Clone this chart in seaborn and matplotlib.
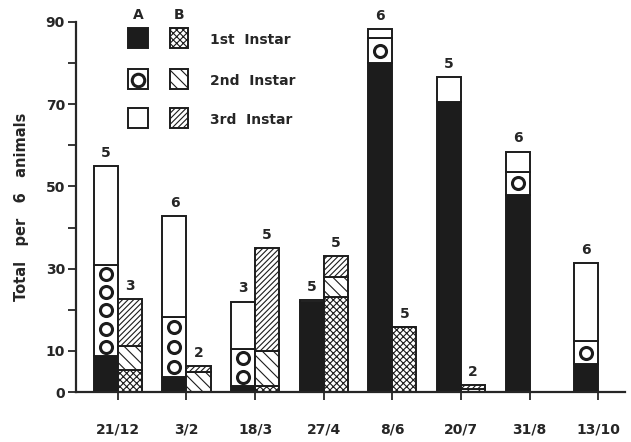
import numpy as np
import matplotlib
matplotlib.use("Agg")
import matplotlib.pyplot as plt
from matplotlib.patches import Rectangle
from matplotlib.lines import Line2D
import seaborn as sns

# data
dates = ["21/12", "3/2", "18/3", "27/4", "8/6", "20/7", "31/8", "13/10"]
# A columns (stacked: 1st, 2nd, 3rd instar)
a_first = [8.7, 3.6, 1.5, 22.0, 80.0, 70.5, 48.0, 6.8]
a_second = [22.3, 14.7, 8.9, 0.0, 6.0, 0.0, 5.5, 5.5]
a_third = [24.0, 24.4, 11.6, 0.3, 2.3, 6.0, 5.0, 19.0]
a_n = [5, 6, 3, 5, 6, 5, 6, 6]
# B columns
b_first = [5.3, 0.0, 1.5, 23.0, 15.7, 0.0, 0.0, 0.0]
b_second = [6.0, 4.8, 8.5, 5.0, 0.0, 0.8, 0.0, 0.0]
b_third = [11.3, 1.5, 25.0, 5.0, 0.0, 0.8, 0.0, 0.0]
b_n = [3, 2, 5, 5, 5, 2, None, None]

sns.set_style("ticks")
plt.rcParams['font.family'] = ['DejaVu Sans']
plt.rcParams['hatch.linewidth'] = 0.8

W, H = 631, 442
fig = plt.figure(figsize=(W / 100, H / 100), dpi=100)
ax = fig.add_axes([76 / W, 1 - 392 / H, (625 - 76) / W, (392 - 22) / H])

x = np.arange(len(dates))
bw = 0.35
BLACK = "#1c1c1c"
lw = 1.4
HATCH_B = ["xxxxx", "\\\\\\", "//////"]

a1 = np.array(a_first)
a2 = np.array(a_second)
a3 = np.array(a_third)
b1 = np.array(b_first)
b2 = np.array(b_second)
b3 = np.array(b_third)

# A bars (left of tick)
ax.bar(x, a1, -bw, align="edge", color=BLACK, edgecolor=BLACK, lw=lw)
ax.bar(x, a2, -bw, bottom=a1, align="edge", color="white", edgecolor=BLACK, lw=lw)
ax.bar(x, a3, -bw, bottom=a1 + a2, align="edge", color="white", edgecolor=BLACK, lw=lw)

# circles in the 2nd instar A segments
cx, cy = [], []
for i in range(len(x)):
    h = a2[i]
    if h <= 0:
        continue
    n = max(1, int(round(h / 4.5)))
    for k in range(n):
        cx.append(x[i] - bw / 2)
        cy.append(a1[i] + h * (k + 0.5) / n)
sns.scatterplot(x=cx, y=cy, ax=ax, s=75, marker="o", facecolor="white",
                edgecolor=BLACK, linewidth=2.2, zorder=5, legend=False)

# B bars (right of tick)
ax.bar(x, b1, bw, align="edge", color="white", edgecolor=BLACK, lw=lw, hatch=HATCH_B[0])
ax.bar(x, b2, bw, bottom=b1, align="edge", color="white", edgecolor=BLACK, lw=lw, hatch=HATCH_B[1])
ax.bar(x, b3, bw, bottom=b1 + b2, align="edge", color="white", edgecolor=BLACK, lw=lw, hatch=HATCH_B[2])

# counts above bars
for i in range(len(x)):
    ta = a1[i] + a2[i] + a3[i]
    ax.text(x[i] - bw / 2, ta + 1.5, str(a_n[i]), ha="center", va="bottom",
            fontsize=10, fontweight="bold", clip_on=False)
    if b_n[i] is not None:
        tb = b1[i] + b2[i] + b3[i]
        ax.text(x[i] + bw / 2, tb + 1.5, str(b_n[i]), ha="center", va="bottom",
                fontsize=10, fontweight="bold", clip_on=False)

ax.set_xlim(-0.61, 7.39)
ax.set_ylim(0, 90)
ax.set_xticks(x)
ax.set_xticklabels(dates, fontsize=10, fontweight="bold")
ax.set_yticks(range(0, 91, 10))
ax.set_yticklabels(["0", "10", "", "30", "", "50", "", "70", "", "90"],
                   fontsize=10, fontweight="bold")
ax.tick_params(axis="x", length=6, width=1.3, pad=16)
ax.tick_params(axis="y", length=6, width=1.3, pad=2)
for s in ["left", "bottom"]:
    ax.spines[s].set_linewidth(1.6)
sns.despine(ax=ax)
ax.set_ylabel("Total   per   6   animals", fontsize=10.5, fontweight="bold", labelpad=12)

# legend drawn by hand
def fx(px):
    return px / W

def fy(py):
    return 1 - py / H

fig.text(fx(138), fy(15), "A", ha="center", va="center", fontsize=10, fontweight="bold")
fig.text(fx(179), fy(15), "B", ha="center", va="center", fontsize=10, fontweight="bold")
rows = [38, 79, 118]
labels = ["1st  Instar", "2nd  Instar", "3rd  Instar"]
a_fill = [BLACK, "white", "white"]
for r, lab, af, bh in zip(rows, labels, a_fill, HATCH_B):
    fig.add_artist(Rectangle((fx(128), fy(r + 10)), 20 / W, 20 / H, transform=fig.transFigure,
                             facecolor=af, edgecolor=BLACK, lw=lw))
    fig.add_artist(Rectangle((fx(170), fy(r + 10)), 18 / W, 20 / H, transform=fig.transFigure,
                             facecolor="white", edgecolor=BLACK, lw=lw, hatch=bh))
    fig.text(fx(210), fy(r + 2), lab, ha="left", va="center", fontsize=10, fontweight="bold")
fig.add_artist(Line2D([fx(138)], [fy(80)], marker="o", markersize=9,
                      markerfacecolor="white", markeredgecolor=BLACK,
                      markeredgewidth=2.2, transform=fig.transFigure))

fig.savefig("out.png", dpi=100)
